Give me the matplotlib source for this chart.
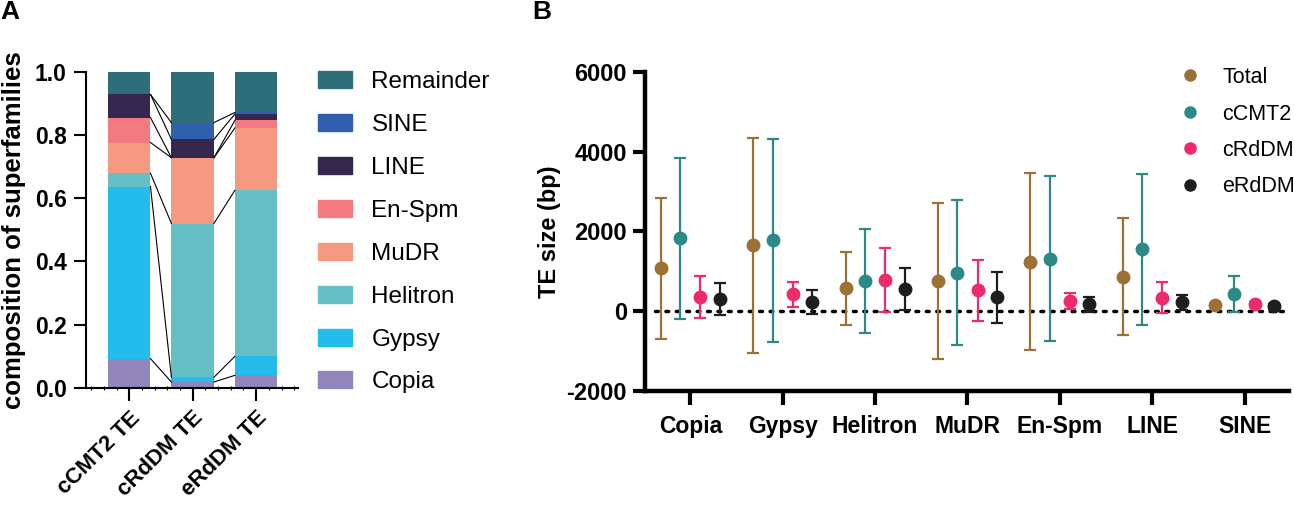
import numpy as np
import matplotlib
matplotlib.use("Agg")
import matplotlib.pyplot as plt
from matplotlib.patches import Patch
from matplotlib.lines import Line2D

plt.rcParams['font.family'] = ['Liberation Sans', 'DejaVu Sans']

# ---- panel A data: fraction of each superfamily per TE group ----
groupsA = ['cCMT2 TE', 'cRdDM TE', 'eRdDM TE']
superfamilies = ['Copia', 'Gypsy', 'Helitron', 'MuDR', 'En-Spm', 'LINE', 'SINE', 'Remainder']
copia = [0.093, 0.019, 0.040]
gypsy = [0.544, 0.015, 0.060]
helitron = [0.042, 0.486, 0.525]
mudr = [0.097, 0.208, 0.197]
enspm = [0.079, 0.000, 0.024]
line_ = [0.073, 0.058, 0.020]
sine = [0.000, 0.053, 0.005]
remainder = [0.072, 0.161, 0.129]
colorsA = ['#9285bc', '#22bdec', '#66bfc4', '#f59a80', '#f27a80', '#35284e', '#2f5fad', '#2e6e78']

# ---- panel B data: TE size mean and SD ----
categoriesB = ['Copia', 'Gypsy', 'Helitron', 'MuDR', 'En-Spm', 'LINE', 'SINE']
seriesB = ['Total', 'cCMT2', 'cRdDM', 'eRdDM']
total_mean = [1075, 1655, 571, 756, 1243, 865, 143]
total_sd = [1772, 2696, 915, 1966, 2208, 1470, 40]
ccmt2_mean = [1831, 1772, 756, 966, 1319, 1554, 428]
ccmt2_sd = [2016, 2540, 1300, 1825, 2060, 1890, 460]
crddm_mean = [361, 420, 781, 521, 260, 336, 168]
crddm_sd = [521, 315, 800, 760, 205, 390, 60]
erddm_mean = [294, 218, 554, 344, 176, 218, 118]
erddm_sd = [400, 300, 530, 630, 185, 190, 60]
colorsB = ['#9b7135', '#2b8a87', '#ec2a6c', '#1e1e1e']

fig = plt.figure(figsize=(12.94, 5.08), dpi=100)

# ================= panel A =================
axA = fig.add_axes([0.0665, 0.2362, 0.1638, 0.6227])
stack = np.array([copia, gypsy, helitron, mudr, enspm, line_, sine, remainder])
x = np.arange(len(groupsA))
w = 0.67
bottom = np.zeros(len(groupsA))
for vals, col, name in zip(stack, colorsA, superfamilies):
    axA.bar(x, vals, w, bottom=bottom, color=col, label=name, zorder=2)
    bottom = bottom + vals

# connecting lines between bars at each segment top
cum = np.cumsum(stack, axis=0)
for i in range(len(groupsA) - 1):
    for k in range(len(superfamilies) - 1):
        axA.plot([x[i] + w / 2, x[i + 1] - w / 2], [cum[k, i], cum[k, i + 1]],
                 color='black', lw=0.8, zorder=3)

axA.set_xlim(-0.68, 2.66)
axA.set_ylim(0, 1.0)
axA.set_yticks([0, 0.2, 0.4, 0.6, 0.8, 1.0])
axA.set_yticklabels(['0.0', '0.2', '0.4', '0.6', '0.8', '1.0'], fontweight='bold', fontsize=16.5)
axA.set_xticks(x)
axA.set_xticklabels(groupsA, rotation=45, ha='right', rotation_mode='anchor',
                    fontweight='bold', fontsize=16)
axA.set_xticks(np.arange(-0.6, 2.7, 0.2), minor=True)
axA.tick_params(axis='x', which='minor', length=3, width=0.8, direction='inout')
axA.tick_params(axis='both', which='major', length=9, width=1.5, pad=5)
for s in ['top', 'right']:
    axA.spines[s].set_visible(False)
for s in ['left', 'bottom']:
    axA.spines[s].set_linewidth(1.5)
axA.set_ylabel('composition of superfamilies', fontweight='bold', fontsize=18.5, labelpad=6)

hA = [Patch(color=c) for c in colorsA[::-1]]
fig.legend(hA, superfamilies[::-1], loc='upper left', bbox_to_anchor=(0.2457, 1 - 71 / 508),
           frameon=False, fontsize=17.5, handlelength=1.4, handleheight=0.7,
           handletextpad=0.8, labelspacing=0.86, borderpad=0, borderaxespad=0)

# ================= panel B =================
axB = fig.add_axes([0.4985, 0.2303, 0.4976, 0.6286])
xb = np.arange(len(categoriesB))
offsets = [-0.32, -0.11, 0.11, 0.32]
means = [total_mean, ccmt2_mean, crddm_mean, erddm_mean]
sds = [total_sd, ccmt2_sd, crddm_sd, erddm_sd]
axB.plot([-0.38, 6.42], [0, 0], color='black', lw=2.5, ls=(0, (0.8, 2.2)),
         dash_capstyle='round', zorder=1)
for off, m, s, c in zip(offsets, means, sds, colorsB):
    axB.errorbar(xb + off, m, yerr=s, fmt='o', color=c, ms=9, capsize=4,
                 elinewidth=1.6, capthick=1.6, zorder=3)

axB.set_xlim(-0.49, 6.48)
axB.set_ylim(-2000, 6000)
axB.set_yticks([-2000, 0, 2000, 4000, 6000])
axB.set_yticklabels(['-2000', '0', '2000', '4000', '6000'], fontweight='bold', fontsize=17)
axB.set_xticks(xb)
axB.set_xticklabels(categoriesB, fontweight='bold', fontsize=16.5)
axB.tick_params(axis='y', length=9, width=3, pad=4)
axB.tick_params(axis='x', length=10, width=3, pad=7)
for s in ['top', 'right']:
    axB.spines[s].set_visible(False)
for s in ['left', 'bottom']:
    axB.spines[s].set_linewidth(3.2)
axB.set_ylabel('TE size (bp)', fontweight='bold', fontsize=17, labelpad=4)

hB = [Line2D([], [], ls='none', marker='o', ms=8, color=c) for c in colorsB]
fig.legend(hB, seriesB, loc='upper left', bbox_to_anchor=(1179 / 1294, 1 - 67 / 508),
           frameon=False, fontsize=15.5, handlelength=1.0, handletextpad=1.0,
           labelspacing=0.72, borderpad=0, borderaxespad=0)

fig.text(0.0, 1.0, 'A', fontweight='bold', fontsize=19, va='top', ha='left')
fig.text(532 / 1294, 1.0, 'B', fontweight='bold', fontsize=19, va='top', ha='left')

fig.savefig('out.png', dpi=100)
